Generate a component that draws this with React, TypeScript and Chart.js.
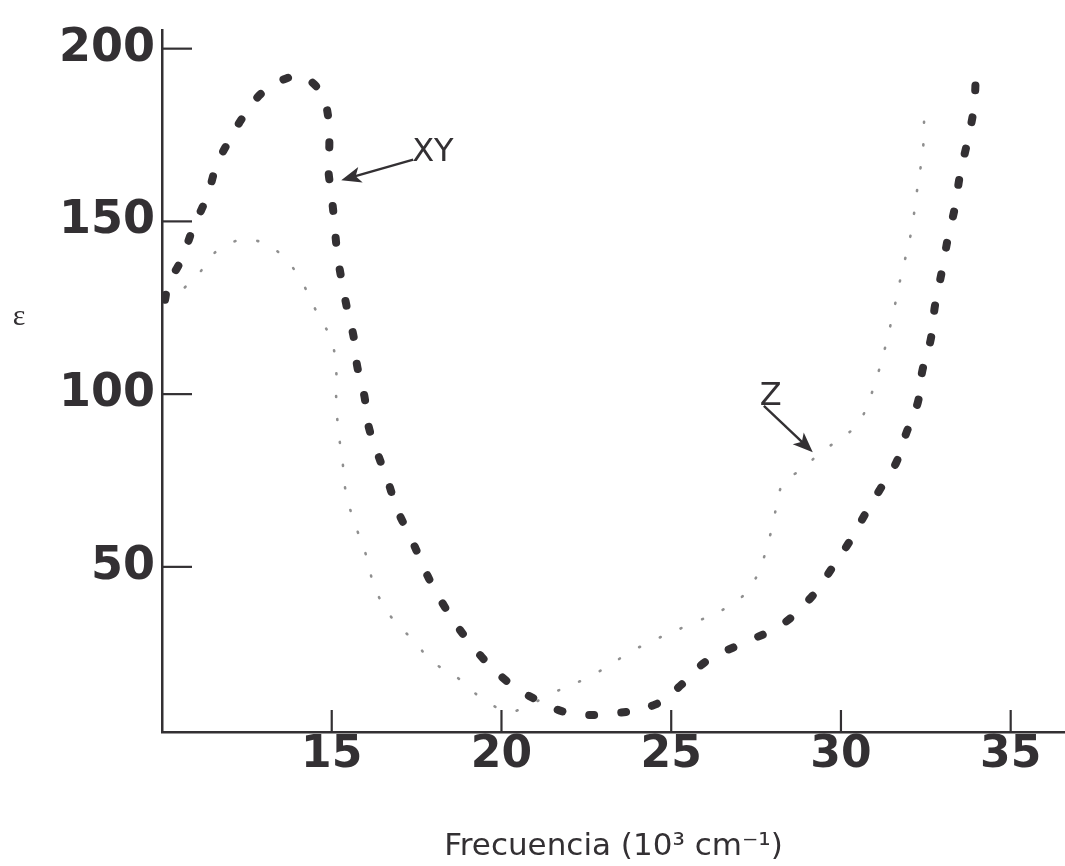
import React, { useEffect, useRef } from 'react';
import { Chart, registerables } from 'chart.js';

Chart.register(...registerables);

// Heavy dashed curve (XY)
const xyFreq = [
  10.09, 10.18, 10.59, 10.91, 11.33, 11.62, 12.01, 12.45, 13.04, 13.83, 14.16,
  14.69, 14.9, 14.93, 14.9, 14.99, 15.07, 15.16, 15.28, 15.46, 15.66, 15.75,
  15.96, 16.08, 16.37, 16.64, 16.93, 17.32, 18.02, 19.03, 20.24, 21.09, 22.04,
  23.3, 24.54, 25.34, 26.05, 27.11, 28.23, 29.06, 29.47, 29.85, 30.24, 30.74,
  31.18, 31.62, 31.92, 32.27, 32.39, 32.65, 32.77, 32.98, 33.16, 33.36, 33.51,
  33.75, 33.92, 33.98,
];
const xyEps = [
  127.3, 131.6, 139.3, 147.9, 157.3, 166.5, 173.9, 181.1, 188.0, 192.0, 192.0,
  187.1, 180.0, 172.5, 165.4, 157.9, 150.5, 141.0, 133.6, 124.4, 115.8, 108.1,
  99.5, 90.9, 82.3, 75.2, 66.6, 58.6, 43.7, 28.5, 16.2, 11.3, 7.6,
  7.6, 10.2, 16.2, 22.8, 27.9, 33.1, 40.5, 45.7, 51.4, 57.1, 65.7,
  72.9, 80.0, 88.6, 97.8, 106.4, 116.1, 125.6, 135.9, 145.6, 154.2, 163.6,
  174.2, 183.4, 194.5,
];

// Light dotted curve (Z)
const zFreq = [
  10.12, 10.32, 10.65, 11.09, 11.68, 12.57, 13.48, 14.13, 14.54, 14.99, 15.13,
  15.13, 15.19, 15.31, 15.43, 15.75, 16.02, 16.28, 16.78, 17.43, 17.94, 18.79,
  19.35, 20.21, 20.91, 21.47, 22.71, 24.01, 25.49, 26.67, 27.4, 27.94, 28.29,
  28.82, 29.38, 29.94, 30.53, 31.03, 31.45, 31.77, 32.06, 32.24, 32.42, 32.45,
];
const zEps = [
  127.0, 128.1, 130.7, 135.0, 141.9, 144.7, 140.7, 132.2, 124.1, 115.5, 107.0,
  99.2, 89.8, 81.2, 70.9, 60.6, 53.1, 43.7, 35.1, 28.5, 22.8, 17.3,
  12.5, 8.2, 10.5, 13.3, 18.8, 26.5, 33.1, 38.5, 45.1, 60.0, 74.3,
  78.0, 82.9, 86.9, 91.8, 104.1, 119.6, 134.2, 146.5, 158.8, 171.4, 179.5,
];

const xTickValues = [15, 20, 25, 30, 35];
const yTickValues = [50, 100, 150, 200];
const xLimits = [10, 36.6];
const yLimits = [2.2, 205.4];

// Annotations (data coordinates)
const noteLabels = ['XY', 'Z'];
const noteTextX = [17.37, 27.61];
const noteTextY = [167.4, 96.9];
const arrowFromX = [17.4, 27.73];
const arrowFromY = [167.9, 96.6];
const arrowToX = [15.28, 29.17];
const arrowToY = [161.9, 83.2];

const yAxisSymbol = 'ε';
const yAxisSymbolAt = 122.4;
const xAxisTitle = 'Frecuencia (10³ cm⁻¹)';

const INK = '#333033';

const overlayPlugin = {
  id: 'overlay',
  afterDraw(chart: any) {
    const { ctx, chartArea, scales } = chart;
    const x = scales.x;
    const y = scales.y;
    ctx.save();
    ctx.strokeStyle = INK;
    ctx.lineWidth = 2.2;
    ctx.lineCap = 'butt';
    yTickValues.forEach((v) => {
      const py = y.getPixelForValue(v);
      ctx.beginPath();
      ctx.moveTo(chartArea.left, py);
      ctx.lineTo(chartArea.left + 30, py);
      ctx.stroke();
    });
    xTickValues.forEach((v) => {
      const px = x.getPixelForValue(v);
      ctx.beginPath();
      ctx.moveTo(px, chartArea.bottom);
      ctx.lineTo(px, chartArea.bottom - 22);
      ctx.stroke();
    });

    // annotations
    ctx.fillStyle = INK;
    ctx.font = '32px "DejaVu Sans"';
    ctx.textBaseline = 'alphabetic';
    ctx.textAlign = 'left';
    noteLabels.forEach((t, i) => {
      ctx.fillText(t, x.getPixelForValue(noteTextX[i]), y.getPixelForValue(noteTextY[i]));
      const x0 = x.getPixelForValue(arrowFromX[i]);
      const y0 = y.getPixelForValue(arrowFromY[i]);
      const x1 = x.getPixelForValue(arrowToX[i]);
      const y1 = y.getPixelForValue(arrowToY[i]);
      const ang = Math.atan2(y1 - y0, x1 - x0);
      const hl = 20;
      const hw = 8;
      ctx.lineWidth = 2.4;
      ctx.beginPath();
      ctx.moveTo(x0, y0);
      ctx.lineTo(x1 - Math.cos(ang) * hl * 0.6, y1 - Math.sin(ang) * hl * 0.6);
      ctx.stroke();
      ctx.beginPath();
      ctx.moveTo(x1, y1);
      ctx.lineTo(
        x1 - Math.cos(ang) * hl - Math.sin(ang) * hw,
        y1 - Math.sin(ang) * hl + Math.cos(ang) * hw
      );
      ctx.lineTo(
        x1 - Math.cos(ang) * hl * 0.75,
        y1 - Math.sin(ang) * hl * 0.75
      );
      ctx.lineTo(
        x1 - Math.cos(ang) * hl + Math.sin(ang) * hw,
        y1 - Math.sin(ang) * hl - Math.cos(ang) * hw
      );
      ctx.closePath();
      ctx.fill();
    });

    // y-axis symbol
    ctx.font = '30px "Liberation Serif"';
    ctx.textAlign = 'center';
    ctx.textBaseline = 'middle';
    ctx.fillText(yAxisSymbol, chartArea.left - 143, y.getPixelForValue(yAxisSymbolAt));
    ctx.restore();
  },
};

export default function App() {
  const ref = useRef<HTMLCanvasElement>(null);

  useEffect(() => {
    if (!ref.current) return;
    const chart = new Chart(ref.current, {
      type: 'scatter',
      data: {
        datasets: [
          {
            label: 'XY',
            data: xyFreq.map((v, i) => ({ x: v, y: xyEps[i] })),
            showLine: true,
            borderColor: INK,
            borderWidth: 8,
            borderDash: [5, 27],
            borderCapStyle: 'round',
            tension: 0.4,
            pointRadius: 0,
            fill: false,
          },
          {
            label: 'Z',
            data: zFreq.map((v, i) => ({ x: v, y: zEps[i] })),
            showLine: true,
            borderColor: '#8f8f8f',
            borderWidth: 2.6,
            borderDash: [1, 22],
            borderCapStyle: 'round',
            tension: 0.4,
            pointRadius: 0,
            fill: false,
          },
        ],
      },
      options: {
        responsive: false,
        animation: false,
        layout: { padding: { top: 22, right: 0, left: 0, bottom: 0 } },
        plugins: {
          legend: { display: false },
          tooltip: { enabled: false },
        },
        scales: {
          x: {
            type: 'linear',
            min: xLimits[0],
            max: xLimits[1],
            grid: { display: false, drawTicks: false },
            border: { display: true, color: INK, width: 2.5 },
            afterBuildTicks: (s: any) => {
              s.ticks = xTickValues.map((v) => ({ value: v }));
            },
            afterFit: (s: any) => {
              s.height = 134;
            },
            ticks: {
              autoSkip: false,
              maxRotation: 0,
              padding: 2,
              color: INK,
              font: { family: '"DejaVu Sans"', size: 44, weight: 'bold', lineHeight: 1 },
              callback: (v: any) => String(v),
            },
            title: {
              display: true,
              text: xAxisTitle,
              color: INK,
              font: { family: '"DejaVu Sans"', size: 31, lineHeight: 1.2 },
              padding: { top: 0, bottom: 0 },
            },
          },
          y: {
            type: 'linear',
            min: yLimits[0],
            max: yLimits[1],
            grid: { display: false, drawTicks: false },
            border: { display: true, color: INK, width: 2.5 },
            afterBuildTicks: (s: any) => {
              s.ticks = yTickValues.map((v) => ({ value: v }));
            },
            afterFit: (s: any) => {
              s.width = 162;
            },
            ticks: {
              autoSkip: false,
              padding: 7,
              color: INK,
              font: { family: '"DejaVu Sans"', size: 46, weight: 'bold', lineHeight: 1 },
              callback: (v: any) => String(v),
            },
          },
        },
      },
      plugins: [overlayPlugin],
    });
    return () => chart.destroy();
  }, []);

  return (
    <div style={{ position: 'absolute', left: 0, top: 0, width: 1065, height: 866, background: '#fff' }}>
      <canvas ref={ref} width={1065} height={866} style={{ display: 'block' }} />
    </div>
  );
}
